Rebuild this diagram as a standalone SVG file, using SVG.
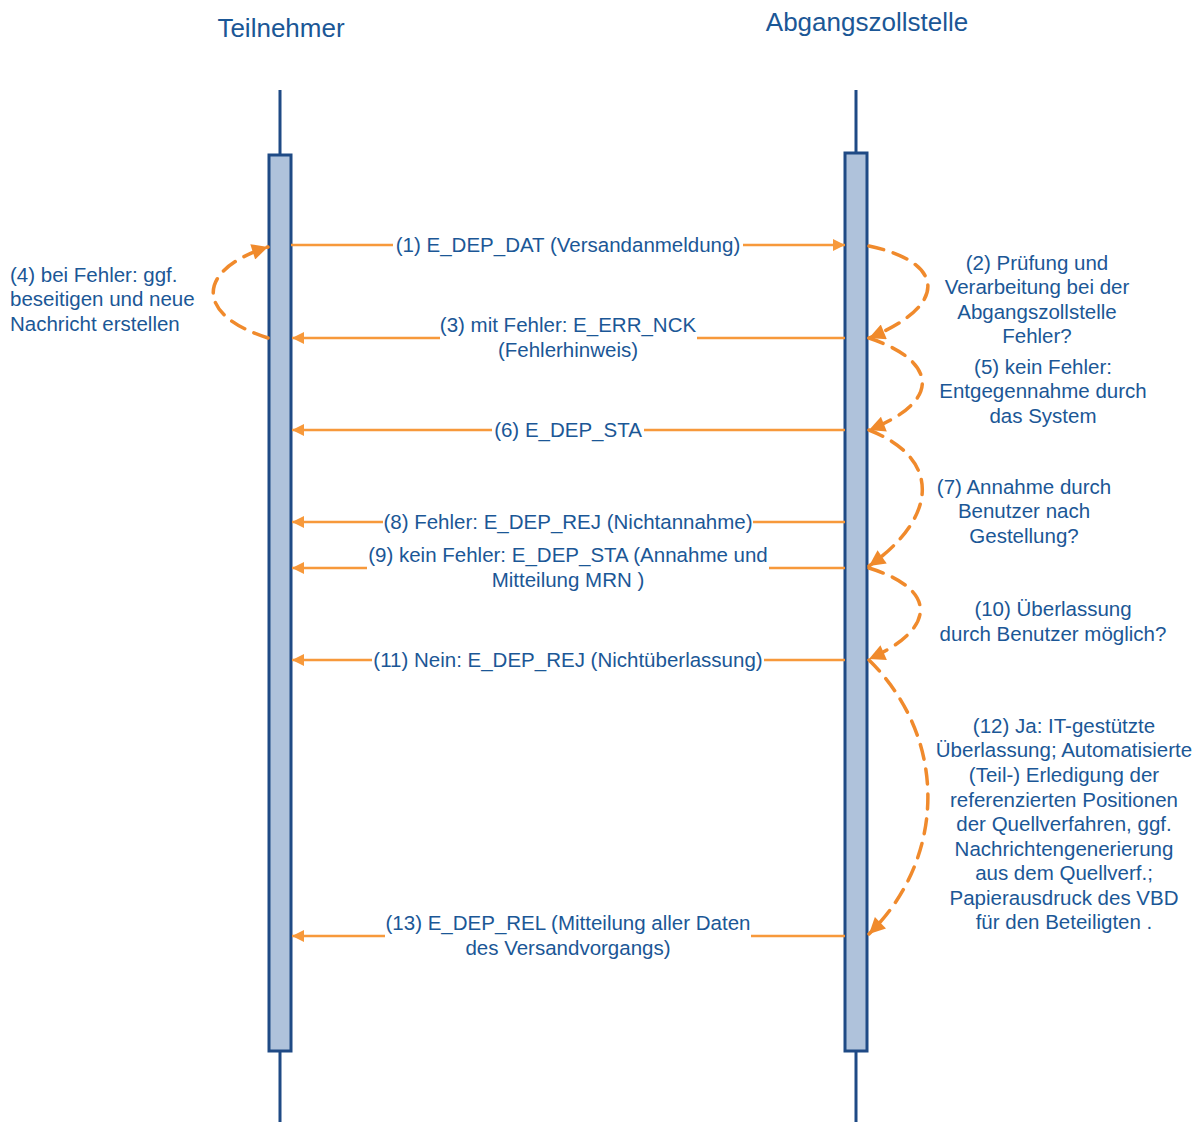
<svg xmlns="http://www.w3.org/2000/svg" width="1200" height="1122" viewBox="0 0 1200 1122">
<defs>
<style>
text{font-family:"Liberation Sans",Arial,sans-serif;fill:#1B5796;font-size:20.5px}
.t{font-size:26px}
.m{text-anchor:middle}
.life{stroke:#1F4A85;stroke-width:3}
.bar{fill:#AFC2DB;stroke:#1F4A85;stroke-width:3}
.msg{stroke:#F7993B;stroke-width:2.5;fill:none}
.loop{stroke:#F08A2C;stroke-width:3.5;fill:none;stroke-dasharray:15 10;stroke-linecap:round}
</style>
<marker id="ah" viewBox="0 0 10 10" refX="10" refY="5" markerWidth="14" markerHeight="12" markerUnits="userSpaceOnUse" orient="auto"><path d="M0,0L10,5L0,10z" fill="#F7993B"/></marker>
<marker id="ad" viewBox="0 0 10 10" refX="10" refY="5" markerWidth="18" markerHeight="16" markerUnits="userSpaceOnUse" orient="auto"><path d="M0,0L10,5L0,10z" fill="#F08A2C"/></marker>
</defs>
<rect width="1200" height="1122" fill="#fff"/>
<g id="teilnehmer">
<line class="life" x1="280" y1="90" x2="280" y2="1122"/>
<rect class="bar" x="269" y="155" width="22" height="896"/>
<text class="t m" x="281" y="37">Teilnehmer</text>
</g>
<g id="abgangszollstelle">
<line class="life" x1="856" y1="90" x2="856" y2="1122"/>
<rect class="bar" x="845" y="153" width="22" height="898"/>
<text class="t m" x="867" y="31">Abgangszollstelle</text>
</g>
<g id="connectors">
<line class="msg" x1="291" y1="245" x2="393" y2="245"/>
<line class="msg" x1="743" y1="245" x2="845" y2="245" marker-end="url(#ah)"/>
<line class="msg" x1="845" y1="338" x2="697" y2="338"/>
<line class="msg" x1="440" y1="338" x2="292" y2="338" marker-end="url(#ah)"/>
<line class="msg" x1="845" y1="430" x2="644" y2="430"/>
<line class="msg" x1="492" y1="430" x2="292" y2="430" marker-end="url(#ah)"/>
<line class="msg" x1="845" y1="522" x2="753" y2="522"/>
<line class="msg" x1="383" y1="522" x2="292" y2="522" marker-end="url(#ah)"/>
<line class="msg" x1="845" y1="568" x2="769" y2="568"/>
<line class="msg" x1="367" y1="568" x2="292" y2="568" marker-end="url(#ah)"/>
<line class="msg" x1="845" y1="660" x2="764" y2="660"/>
<line class="msg" x1="372" y1="660" x2="292" y2="660" marker-end="url(#ah)"/>
<line class="msg" x1="845" y1="936" x2="751" y2="936"/>
<line class="msg" x1="385" y1="936" x2="292" y2="936" marker-end="url(#ah)"/>
<path class="loop" d="M869,246 C945,262 950,305 869,338" marker-end="url(#ad)"/>
<path class="loop" d="M869,338 C935,360 945,400 869,430" marker-end="url(#ad)"/>
<path class="loop" d="M869,430 C945,460 935,520 869,566" marker-end="url(#ad)"/>
<path class="loop" d="M869,568 C940,590 935,630 869,659" marker-end="url(#ad)"/>
<path class="loop" d="M869,660 C950,740 945,860 869,934" marker-end="url(#ad)"/>
<path class="loop" d="M268,338 C195,315 195,270 268,247" marker-end="url(#ad)"/>
</g>
<g id="labels-messages">
<text class="m" x="568" y="252">(1) E_DEP_DAT (Versandanmeldung)</text>
<text class="m" x="568" y="332">(3) mit Fehler: E_ERR_NCK</text>
<text class="m" x="568" y="357">(Fehlerhinweis)</text>
<text class="m" x="568" y="437">(6) E_DEP_STA</text>
<text class="m" x="568" y="529">(8) Fehler: E_DEP_REJ (Nichtannahme)</text>
<text class="m" x="568" y="562">(9) kein Fehler: E_DEP_STA (Annahme und</text>
<text class="m" x="568" y="587">Mitteilung MRN )</text>
<text class="m" x="568" y="667">(11) Nein: E_DEP_REJ (Nichtüberlassung)</text>
<text class="m" x="568" y="930">(13) E_DEP_REL (Mitteilung aller Daten</text>
<text class="m" x="568" y="955">des Versandvorgangs)</text>
</g>
<g id="label-4">
<text x="10" y="282">(4) bei Fehler: ggf.</text>
<text x="10" y="306">beseitigen und neue</text>
<text x="10" y="331">Nachricht erstellen</text>
</g>
<g id="label-2">
<text class="m" x="1037" y="270">(2) Prüfung und</text>
<text class="m" x="1037" y="294">Verarbeitung bei der</text>
<text class="m" x="1037" y="319">Abgangszollstelle</text>
<text class="m" x="1037" y="343">Fehler?</text>
</g>
<g id="label-5">
<text class="m" x="1043" y="374">(5) kein Fehler:</text>
<text class="m" x="1043" y="398">Entgegennahme durch</text>
<text class="m" x="1043" y="423">das System</text>
</g>
<g id="label-7">
<text class="m" x="1024" y="494">(7) Annahme durch</text>
<text class="m" x="1024" y="518">Benutzer nach</text>
<text class="m" x="1024" y="543">Gestellung?</text>
</g>
<g id="label-10">
<text class="m" x="1053" y="616">(10) Überlassung</text>
<text class="m" x="1053" y="641">durch Benutzer möglich?</text>
</g>
<g id="label-12">
<text class="m" x="1064" y="733">(12) Ja: IT-gestützte</text>
<text class="m" x="1064" y="757">Überlassung; Automatisierte</text>
<text class="m" x="1064" y="782">(Teil-) Erledigung der</text>
<text class="m" x="1064" y="807">referenzierten Positionen</text>
<text class="m" x="1064" y="831">der Quellverfahren, ggf.</text>
<text class="m" x="1064" y="856">Nachrichtengenerierung</text>
<text class="m" x="1064" y="880">aus dem Quellverf.;</text>
<text class="m" x="1064" y="905">Papierausdruck des VBD</text>
<text class="m" x="1064" y="929">für den Beteiligten .</text>
</g>
</svg>
